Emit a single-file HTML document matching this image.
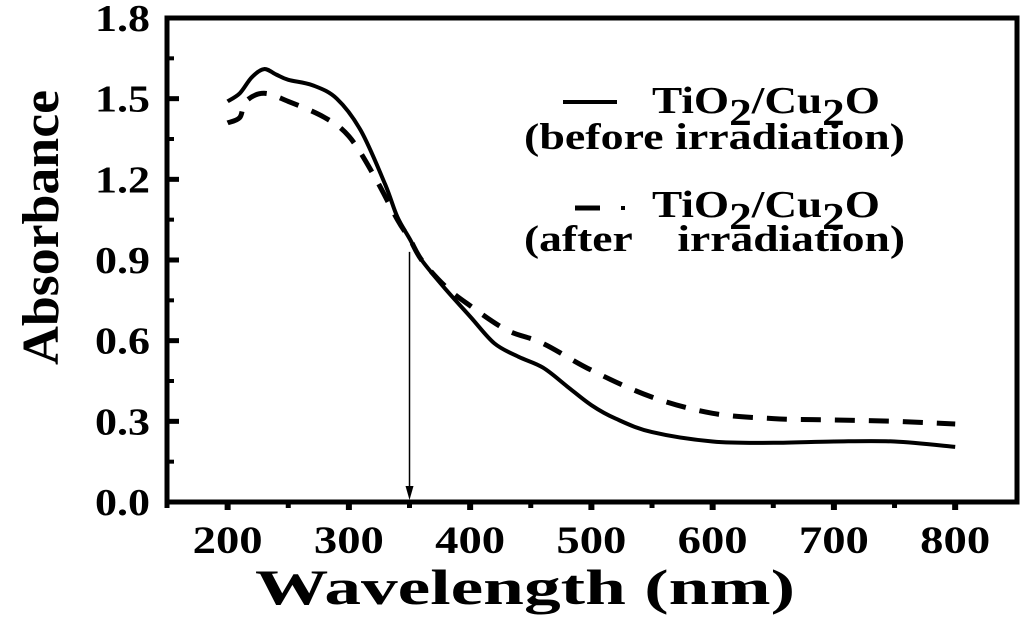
<!DOCTYPE html>
<html><head><meta charset="utf-8"><style>
body{margin:0;background:#fff}
svg text{font-family:"Liberation Serif",serif;font-weight:bold;fill:#000}
</style></head><body>
<svg id="chart" width="1024" height="616" viewBox="0 0 1024 616" xmlns="http://www.w3.org/2000/svg">
<g id="axes"></g>
<g id="series"></g>
<g>
<line x1="563" y1="102" x2="617" y2="102" stroke="#000" stroke-width="4"/>
<text x="652" y="113" font-size="38" textLength="228" lengthAdjust="spacingAndGlyphs">TiO<tspan dy="12">2</tspan><tspan dy="-12">/Cu</tspan><tspan dy="12">2</tspan><tspan dy="-12">O</tspan></text>
<text x="524" y="149" font-size="37" textLength="381" lengthAdjust="spacingAndGlyphs">(before irradiation)</text>
<line x1="575" y1="208" x2="600" y2="208" stroke="#000" stroke-width="5"/>
<line x1="621" y1="208" x2="625" y2="208" stroke="#000" stroke-width="4"/>
<text x="652" y="217" font-size="38" textLength="228" lengthAdjust="spacingAndGlyphs">TiO<tspan dy="12">2</tspan><tspan dy="-12">/Cu</tspan><tspan dy="12">2</tspan><tspan dy="-12">O</tspan></text>
<text x="524" y="251" font-size="37" textLength="381" lengthAdjust="spacingAndGlyphs" xml:space="preserve">(after    irradiation)</text>
</g>
<text x="255" y="604" font-size="50" textLength="540" lengthAdjust="spacingAndGlyphs">Wavelength (nm)</text>
<text transform="translate(58,365) rotate(-90)" font-size="52" textLength="275" lengthAdjust="spacingAndGlyphs">Absorbance</text>
</svg>
<script>
const xTicks=[200,300,400,500,600,700,800];
const yTicks=[0.0,0.3,0.6,0.9,1.2,1.5,1.8];
const yTickLabels=["0.0","0.3","0.6","0.9","1.2","1.5","1.8"];
const beforeX=[200,210,220,230,240,250,270,290,310,330,340,350,360,380,400,420,440,460,480,500,520,550,600,650,700,750,800];
const beforeY=[1.49,1.52,1.58,1.61,1.59,1.57,1.55,1.50,1.38,1.18,1.06,0.98,0.90,0.79,0.69,0.59,0.54,0.50,0.43,0.36,0.31,0.26,0.225,0.22,0.225,0.225,0.205];
const afterX=[200,210,215,230,250,280,300,320,340,350,360,380,400,430,460,500,550,600,650,700,750,800];
const afterY=[1.41,1.43,1.49,1.52,1.49,1.43,1.36,1.22,1.05,0.98,0.90,0.80,0.73,0.64,0.59,0.49,0.39,0.33,0.31,0.305,0.30,0.29];
const arrowX=350, arrowTop=0.93;
const L=167,R=1017,T=18,B=502,xmin=150,xmax=851,ymin=0,ymax=1.8;
const sx=v=>L+(v-xmin)/(xmax-xmin)*(R-L);
const sy=v=>B-(v-ymin)/(ymax-ymin)*(B-T);
const NS="http://www.w3.org/2000/svg";
function mk(tag,attrs,parent){const e=document.createElementNS(NS,tag);for(const k in attrs)e.setAttribute(k,attrs[k]);parent.appendChild(e);return e;}
const axes=document.getElementById('axes'),series=document.getElementById('series');
const frame=mk('rect',{x:L,y:T,width:R-L,height:B-T,fill:'none',stroke:'#000','stroke-width':5},axes);


yTicks.forEach((v,i)=>{
  const t=mk('line',{x1:L,x2:L+12,y1:sy(v),y2:sy(v),stroke:'#000','stroke-width':5},axes);
  
  
  if(i<yTicks.length-1){const m=mk('line',{x1:L,x2:L+7,y1:sy(v+0.15),y2:sy(v+0.15),stroke:'#000','stroke-width':4},axes);
  
  }
  const lb=mk('text',{x:95,y:sy(v)+13,'font-size':38,textLength:55,lengthAdjust:'spacingAndGlyphs'},axes);lb.textContent=yTickLabels[i];
  
  
});
xTicks.forEach((v,i)=>{
  const t=mk('line',{x1:sx(v),x2:sx(v),y1:B,y2:B+8,stroke:'#000','stroke-width':6},axes);
  
  
  const m=mk('line',{x1:sx(v-50),x2:sx(v-50),y1:B,y2:B+6,stroke:'#000','stroke-width':5},axes);
  
  
  const lb=mk('text',{x:sx(v)-35,y:553,'font-size':39,textLength:70,lengthAdjust:'spacingAndGlyphs'},axes);lb.textContent=String(v);
  
  
});
function path(xs,ys){
  const p=xs.map((x,i)=>[sx(x),sy(ys[i])]);
  let d='M'+p[0][0].toFixed(1)+','+p[0][1].toFixed(1);
  for(let i=0;i<p.length-1;i++){
    const p0=p[Math.max(i-1,0)],p1=p[i],p2=p[i+1],p3=p[Math.min(i+2,p.length-1)];
    const c1=[p1[0]+(p2[0]-p0[0])/6,p1[1]+(p2[1]-p0[1])/6],c2=[p2[0]-(p3[0]-p1[0])/6,p2[1]-(p3[1]-p1[1])/6];
    d+=` C${c1[0].toFixed(1)},${c1[1].toFixed(1)} ${c2[0].toFixed(1)},${c2[1].toFixed(1)} ${p2[0].toFixed(1)},${p2[1].toFixed(1)}`;
  }
  return d;
}
const p1=mk('path',{d:path(beforeX,beforeY),fill:'none',stroke:'#000','stroke-width':4,'stroke-linejoin':'round'},series);


const p2=mk('path',{d:path(afterX,afterY),fill:'none',stroke:'#000','stroke-width':5,'stroke-dasharray':'20 14'},series);


const ar=mk('line',{x1:sx(arrowX),x2:sx(arrowX),y1:sy(arrowTop),y2:B-12,stroke:'#000','stroke-width':1.5},series);


const ah=mk('path',{d:`M${sx(arrowX)-4},${B-16} L${sx(arrowX)+4},${B-16} L${sx(arrowX)},${B-2} Z`,fill:'#000'},series);


</script>
</body></html>
